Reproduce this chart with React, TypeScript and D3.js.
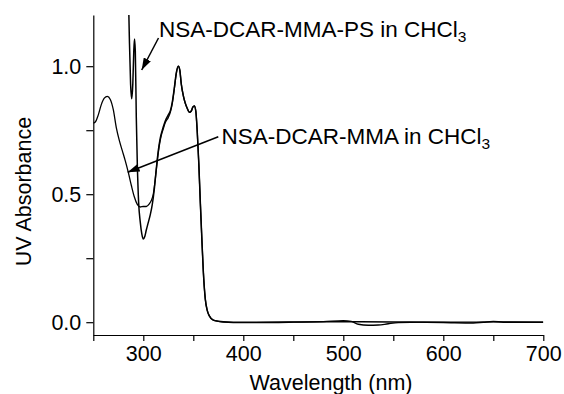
import React, { useEffect, useRef } from "react";
import * as d3 from "d3";

const mmaWavelength = [250, 252, 255, 258, 261, 264, 267, 270, 273, 276, 279, 282, 285, 288, 291, 294, 297, 300, 303, 306, 308, 310, 312, 314, 316, 318, 320, 322, 325, 327, 329, 331, 333, 335, 336.5, 338, 340, 342, 344, 346, 348, 349.5, 351, 352.5, 354, 355.5, 357, 358.5, 360, 362, 364, 366, 370, 375, 380, 400, 450, 480, 500, 508, 515, 525, 535, 545, 555, 580, 620, 650, 700];
const mmaAbsorbance = [0.778, 0.782, 0.81, 0.85, 0.875, 0.882, 0.87, 0.83, 0.76, 0.71, 0.67, 0.63, 0.585, 0.535, 0.49, 0.46, 0.45, 0.452, 0.452, 0.462, 0.475, 0.5, 0.56, 0.63, 0.69, 0.73, 0.755, 0.78, 0.8, 0.82, 0.855, 0.91, 0.97, 1.0, 0.985, 0.93, 0.885, 0.855, 0.835, 0.82, 0.825, 0.84, 0.845, 0.825, 0.74, 0.62, 0.47, 0.33, 0.2, 0.09, 0.045, 0.025, 0.008, 0.003, 0.0, -0.002, 0.0, 0.002, 0.006, 0.003, -0.008, -0.012, -0.011, -0.006, -0.002, 0.0, 0.0, 0.001, 0.0];

const psWavelength = [284.5, 286, 287.3, 288.4, 289.5, 290.5, 291.2, 292, 293, 294, 295.3, 297, 298.5, 300, 301.5, 303, 305, 307, 309, 311, 313, 315, 317, 319, 321, 323, 325, 327, 329, 331, 333, 335, 336.5, 338, 340, 342, 344, 346, 348, 349.5, 351, 352.5, 354, 355.5, 357, 358.5, 360, 362, 364, 366, 370, 375, 380, 400, 450, 500, 550, 600, 630, 640, 650, 660, 700];
const psAbsorbance = [1.4, 1.12, 0.93, 0.873, 0.93, 1.06, 1.106, 1.06, 0.8, 0.62, 0.47, 0.39, 0.345, 0.325, 0.335, 0.36, 0.39, 0.42, 0.46, 0.52, 0.6, 0.67, 0.72, 0.75, 0.775, 0.795, 0.81, 0.825, 0.86, 0.915, 0.975, 1.0, 0.985, 0.93, 0.885, 0.855, 0.835, 0.82, 0.825, 0.84, 0.845, 0.825, 0.74, 0.62, 0.47, 0.33, 0.2, 0.09, 0.045, 0.025, 0.008, 0.004, 0.002, 0.0, 0.001, 0.002, 0.001, -0.001, -0.003, 0.0, 0.003, 0.0, 0.0];

const xTicks = [250, 300, 350, 400, 450, 500, 550, 600, 650, 700];
const xLabeled = [300, 400, 500, 600, 700];
const yTicks = [0, 0.25, 0.5, 0.75, 1.0];
const yLabeled = [0, 0.5, 1.0];

const xTitle = "Wavelength (nm)";
const yTitle = "UV Absorbance";
const labelPS = "NSA-DCAR-MMA-PS in CHCl";
const labelMMA = "NSA-DCAR-MMA in CHCl";
const subscript = "3";

const W = 564;
const H = 394;
const FONT = "'Liberation Sans', Arial, sans-serif";
const FS = 21.5;
const FS_NOTE = 22.5;

export default function App() {
  const ref = useRef<SVGSVGElement>(null);

  useEffect(() => {
    const svg = d3.select(ref.current);
    svg.selectAll("*").remove();

    const x = d3.scaleLinear().domain([250, 700]).range([93.3, 543.3]);
    const y = d3.scaleLinear().domain([-0.05, 1.2]).range([335, 15]);

    const defs = svg.append("defs");
    defs
      .append("clipPath")
      .attr("id", "plotclip")
      .append("rect")
      .attr("x", 93.3)
      .attr("y", 15)
      .attr("width", 450)
      .attr("height", 320);
    defs
      .append("marker")
      .attr("id", "arrowhead")
      .attr("viewBox", "0 0 12 8")
      .attr("refX", 12)
      .attr("refY", 4)
      .attr("markerWidth", 12)
      .attr("markerHeight", 8)
      .attr("markerUnits", "userSpaceOnUse")
      .attr("orient", "auto")
      .append("path")
      .attr("d", "M0,0 L12,4 L0,8 Z")
      .attr("fill", "#000");

    const xAxis = d3
      .axisBottom(x)
      .tickValues(xTicks)
      .tickSize(6)
      .tickSizeOuter(0)
      .tickPadding(5)
      .tickFormat((d) => (xLabeled.includes(d as number) ? String(d) : ""));
    const gx = svg.append("g").attr("transform", "translate(0,335)").call(xAxis);

    const yAxis = d3
      .axisLeft(y)
      .tickValues(yTicks)
      .tickSize(7)
      .tickSizeOuter(0)
      .tickPadding(5)
      .tickFormat((d) => (yLabeled.includes(d as number) ? d3.format(".1f")(d as number) : ""));
    const gy = svg.append("g").attr("transform", "translate(93.3,0)").call(yAxis);

    [gx, gy].forEach((g) => {
      g.selectAll("path.domain").attr("stroke", "#000").attr("stroke-width", 1.2);
      g.selectAll(".tick line").attr("stroke", "#000").attr("stroke-width", 1.2);
      g.selectAll(".tick text").attr("fill", "#000").attr("font-size", FS).attr("font-family", FONT);
    });

    const line = d3
      .line<[number, number]>()
      .x((d) => x(d[0]))
      .y((d) => y(d[1]))
      .curve(d3.curveMonotoneX);

    const plot = svg.append("g").attr("clip-path", "url(#plotclip)");
    const mma: [number, number][] = mmaWavelength.map((w, i) => [w, mmaAbsorbance[i]]);
    const ps: [number, number][] = psWavelength.map((w, i) => [w, psAbsorbance[i]]);
    plot.append("path").attr("d", line(mma)).attr("fill", "none").attr("stroke", "#000").attr("stroke-width", 1.3);
    plot.append("path").attr("d", line(ps)).attr("fill", "none").attr("stroke", "#000").attr("stroke-width", 1.5);

    // Axis titles
    svg
      .append("text")
      .attr("x", 331)
      .attr("y", 390)
      .attr("text-anchor", "middle")
      .attr("font-size", FS)
      .attr("font-family", FONT)
      .text(xTitle);
    svg
      .append("text")
      .attr("transform", "translate(31,191.5) rotate(-90)")
      .attr("text-anchor", "middle")
      .attr("font-size", FS)
      .attr("font-family", FONT)
      .text(yTitle);

    // Annotations
    const addLabel = (tx: number, ty: number, txt: string) => {
      const t = svg.append("text").attr("x", tx).attr("y", ty).attr("font-size", FS_NOTE).attr("font-family", FONT);
      t.append("tspan").text(txt);
      t.append("tspan").attr("dy", 5).attr("font-size", 15.5).text(subscript);
    };
    addLabel(159, 36.5, labelPS);
    addLabel(221.5, 143.5, labelMMA);

    svg
      .append("line")
      .attr("x1", 158.5)
      .attr("y1", 38)
      .attr("x2", 141.7)
      .attr("y2", 70)
      .attr("stroke", "#000")
      .attr("stroke-width", 1.5)
      .attr("marker-end", "url(#arrowhead)");
    svg
      .append("line")
      .attr("x1", 218.3)
      .attr("y1", 136.7)
      .attr("x2", 127.7)
      .attr("y2", 172.2)
      .attr("stroke", "#000")
      .attr("stroke-width", 1.5)
      .attr("marker-end", "url(#arrowhead)");
  }, []);

  return (
    <svg
      ref={ref}
      width={W}
      height={H}
      style={{ position: "absolute", left: 0, top: 0, background: "#fff" }}
    />
  );
}
